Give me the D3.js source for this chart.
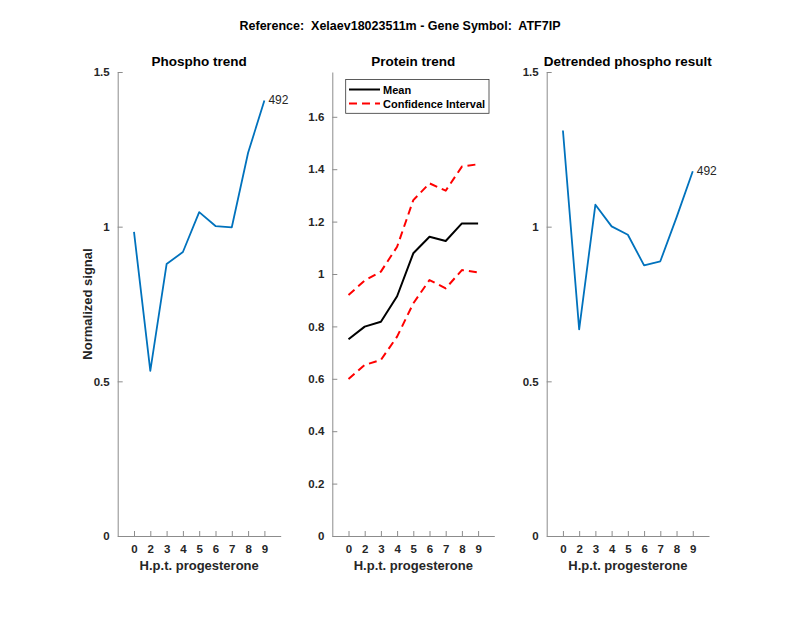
<!DOCTYPE html>
<html><head><meta charset="utf-8">
<script src="https://cdn.jsdelivr.net/npm/d3@7"></script>
<style>body{margin:0;background:#fff;} text{font-family:"Liberation Sans",Arial,sans-serif;}</style>
</head><body>
<svg id="c" width="800" height="618"></svg>
<script>
const xPositions = [1,2,3,4,5,6,7,8,9];
const xTickLabels = ["0","2","3","4","5","6","7","8","9"];
const phospho = [0.983,0.534,0.879,0.918,1.047,1.002,0.998,1.239,1.408];
const proteinMean = [0.751,0.799,0.818,0.915,1.079,1.142,1.126,1.193,1.193];
const proteinUpper = [0.920,0.975,1.009,1.104,1.282,1.346,1.318,1.410,1.419];
const proteinLower = [0.599,0.653,0.672,0.761,0.888,0.977,0.945,1.015,1.006];
const detrended = [1.311,0.668,1.071,1.001,0.974,0.875,0.888,1.030,1.179];
const peptideLabel = "492";
const leftYTicks = [0,0.5,1,1.5];
const midYTicks = [0,0.2,0.4,0.6,0.8,1,1.2,1.4,1.6];

const svg = d3.select("#c");
const axisColor = "#8c8c8c", textColor = "#262626";
const plotTop = 72, plotBottom = 536;

svg.append("text").attr("x",400).attr("y",30).attr("text-anchor","middle")
  .style("white-space","pre")
  .attr("font-size",12.5).attr("font-weight","bold").attr("fill","#000")
  .text("Reference:  Xelaev18023511m - Gene Symbol:  ATF7IP");

function panel(x0, x1, yMax, yTicks, title, ylabel){
  const x = d3.scaleLinear().domain([0,10]).range([x0,x1]);
  const y = d3.scaleLinear().domain([0,yMax]).range([plotBottom,plotTop]);
  const g = svg.append("g");
  const xa = g.append("g").attr("transform",`translate(0,${plotBottom})`)
    .call(d3.axisBottom(x).tickValues(xPositions).tickFormat((d,i)=>xTickLabels[i]).tickSizeInner(-5).tickSizeOuter(0).tickPadding(9));
  const ya = g.append("g").attr("transform",`translate(${x0},0)`)
    .call(d3.axisLeft(y).tickValues(yTicks).tickFormat(d=>d===0?"0":String(d)).tickSizeInner(-5).tickSizeOuter(0).tickPadding(8));
  [xa,ya].forEach(a=>{
    a.select(".domain").attr("stroke",axisColor).attr("stroke-width",1);
    a.selectAll(".tick line").attr("stroke",axisColor);
    a.selectAll(".tick text").attr("fill",textColor).attr("font-size",11.5).attr("font-weight","bold")
      .attr("font-family","Liberation Sans, Arial, sans-serif");
  });
  g.append("text").attr("x",(x0+x1)/2).attr("y",66).attr("text-anchor","middle")
    .attr("font-size",13.5).attr("font-weight","bold").attr("fill","#000").text(title);
  g.append("text").attr("x",(x0+x1)/2).attr("y",570).attr("text-anchor","middle")
    .attr("font-size",13).attr("font-weight","bold").attr("fill",textColor).text("H.p.t. progesterone");
  if(ylabel){
    g.append("text").attr("transform",`translate(92,${(plotTop+plotBottom)/2}) rotate(-90)`).attr("text-anchor","middle")
      .attr("font-size",13).attr("font-weight","bold").attr("fill",textColor).text(ylabel);
  }
  return {x,y,g};
}

function drawLine(p, vals, color, width, dash){
  const line = d3.line().x((d,i)=>p.x(xPositions[i])).y(d=>p.y(d));
  const path = p.g.append("path").datum(vals).attr("d",line).attr("fill","none")
    .attr("stroke",color).attr("stroke-width",width).attr("stroke-linejoin","round");
  if(dash) path.attr("stroke-dasharray",dash);
}

const blue = "#0072BD";
const p1 = panel(117.7, 280.7, 1.5, leftYTicks, "Phospho trend", "Normalized signal");
drawLine(p1, phospho, blue, 1.8);
p1.g.append("text").attr("x",p1.x(9)+4).attr("y",p1.y(phospho[8])+4).attr("font-size",12).attr("fill",textColor).text(peptideLabel);

const p2 = panel(332.3, 494.3, 1.771, midYTicks, "Protein trend", null);
drawLine(p2, proteinUpper, "#ff0000", 2, "8,5");
drawLine(p2, proteinLower, "#ff0000", 2, "8,5");
drawLine(p2, proteinMean, "#000", 2);
// legend
const lg = p2.g.append("g");
lg.append("rect").attr("x",345.7).attr("y",79.5).attr("width",143.3).attr("height",33.8)
  .attr("fill","#fff").attr("stroke","#333").attr("stroke-width",0.8);
lg.append("line").attr("x1",349).attr("x2",380).attr("y1",89.5).attr("y2",89.5).attr("stroke","#000").attr("stroke-width",2);
lg.append("line").attr("x1",349).attr("x2",380).attr("y1",103.5).attr("y2",103.5).attr("stroke","#ff0000").attr("stroke-width",2).attr("stroke-dasharray","8,5");
lg.append("text").attr("x",383).attr("y",93.5).attr("font-size",11).attr("font-weight","bold").attr("fill","#000").text("Mean");
lg.append("text").attr("x",383).attr("y",107.5).attr("font-size",11).attr("font-weight","bold").attr("fill","#000").text("Confidence Interval");

const p3 = panel(546.7, 709, 1.5, leftYTicks, "Detrended phospho result", null);
drawLine(p3, detrended, blue, 1.8);
p3.g.append("text").attr("x",p3.x(9)+4).attr("y",p3.y(detrended[8])+4).attr("font-size",12).attr("fill",textColor).text(peptideLabel);
</script>
</body></html>
